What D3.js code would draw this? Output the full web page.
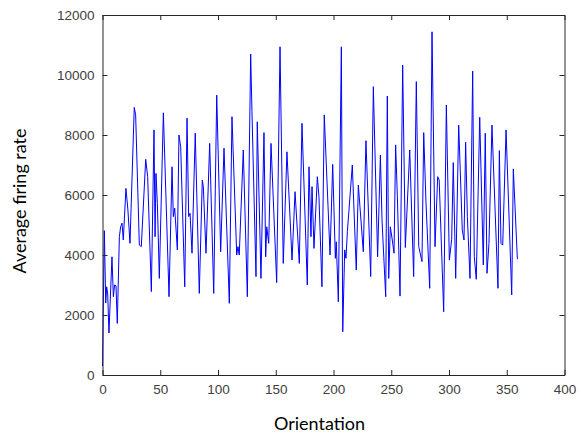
<!DOCTYPE html>
<html>
<head>
<meta charset="utf-8">
<script src="https://cdn.jsdelivr.net/npm/d3@7"></script>
<style>
  body { margin: 0; background: #fff; }
  svg { display: block; }
  .tick text { font-family: Arial, "Liberation Sans", sans-serif; font-size: 13.5px; fill: #404040; }
  .axis path, .axis line { stroke: #262626; }
</style>
</head>
<body>
<svg id="chart" width="581" height="436"></svg>
<script>
// vertices of the trace (orientation in degrees, rate)
const orientation = [
  0, 1.6, 2.8, 3.6, 4.5, 5.6, 8.2, 9.4, 10.5, 11.7,
  12.8, 14.6, 15.7, 16.9, 18, 20.3, 22, 23.8, 27.5, 28.7,
  31.9, 33.6, 37.4, 39.1, 42.3, 44.6, 45.5, 46.3, 47.5, 49.2,
  52.7, 57.6, 60.2, 61.3, 62.5, 64.8, 66.2, 67.7, 71.2, 73.2,
  74.6, 75.8, 77.5, 80.3, 83.8, 86.4, 87.3, 89.6, 92.8, 96.3,
  98.9, 102.3, 105.2, 109.8, 112.1, 116.2, 117.3, 118.4, 121.9, 125.4,
  128.3, 129.4, 132.9, 134, 137.2, 139.8, 141.3, 142.2, 143.9, 145.9,
  150.8, 153.7, 156.5, 159.7, 164.1, 166.7, 170.4, 172.7, 177.3, 178.8,
  180.5, 181.4, 183.1, 186, 187.4, 190, 192, 197, 199.3, 201.6,
  202.4, 204.2, 206.8, 208, 209.7, 210.8, 212, 216.3, 219.7, 221.5,
  222.9, 225.8, 228.1, 232.2, 234.5, 238.2, 240.6, 242, 245.2, 246.6,
  247.8, 249.2, 250.9, 252.4, 253.8, 255.3, 257.6, 259.9, 262.2, 266,
  269.4, 271.7, 273.8, 276.6, 278.1, 280, 283.3, 285.3, 287.9, 290.2,
  291.5, 295.4, 297.7, 300.3, 302.3, 303.7, 305.8, 308.4, 311.5, 313,
  314.4, 315.9, 318.2, 320.5, 321.9, 323.6, 326.6, 329.7, 331.4, 332.9,
  334.6, 337.2, 342.4, 343.6, 345, 346.5, 349.4, 354.3, 355.7, 359.2
];
const rate = [
  300, 4810, 2400, 2940, 2700, 1400, 3940, 2610, 3000, 2970,
  1720, 4610, 4940, 5060, 4500, 6220, 5500, 4390, 8920, 8670,
  4330, 4280, 7190, 6610, 2780, 8170, 4610, 6720, 5720, 3220,
  8740, 2610, 6940, 5280, 5560, 4170, 8000, 7610, 2940, 8560,
  5280, 5390, 4060, 8060, 2720, 6500, 6280, 4060, 7720, 2720,
  9330, 4110, 7560, 2390, 8610, 4000, 4280, 4000, 7500, 2610,
  10700, 8780, 3280, 8440, 3220, 8080, 3940, 4940, 4390, 7720,
  3080, 10940, 3720, 7440, 3830, 6110, 3720, 8390, 3000, 6940,
  4610, 6280, 4220, 6610, 5940, 2940, 8670, 4000, 7020, 3890,
  4440, 2440, 10940, 1440, 4170, 3890, 4780, 7000, 3500, 6330,
  5610, 4110, 7810, 3280, 9610, 3940, 7330, 5170, 2610, 9300,
  3220, 4940, 4500, 4060, 7670, 5940, 2630, 10330, 4250, 7500,
  3280, 9780, 4280, 3780, 8080, 5830, 2890, 11440, 4280, 6610,
  6500, 2110, 9000, 3830, 4520, 7080, 3220, 8330, 4830, 4500,
  7760, 5280, 3220, 10130, 3940, 3190, 8590, 3670, 8060, 3390,
  4390, 8330, 2890, 7480, 4390, 4330, 8170, 2670, 6870, 3860
];
const xTicks = [0, 50, 100, 150, 200, 250, 300, 350, 400];
const yTicks = [0, 2000, 4000, 6000, 8000, 10000, 12000];

const svg = d3.select('#chart');
const plotL = 102.5, plotR = 564.5, plotT = 15, plotB = 375;

const x = d3.scaleLinear().domain([0, 400]).range([plotL, plotR]);
const y = d3.scaleLinear().domain([0, 12000]).range([plotB, plotT]);

svg.append('rect')
  .attr('width', 581).attr('height', 436)
  .attr('fill', '#fff');

// the trace
const pts = orientation.map((o, i) => [o, rate[i]]);
svg.append('path')
  .datum(pts)
  .attr('fill', 'none')
  .attr('stroke', '#0000ff')
  .attr('stroke-width', 1)
  .attr('d', d3.line().x(d => x(d[0])).y(d => y(d[1])));

// box axes, ticks pointing inwards like matlab
svg.append('g').attr('class', 'axis')
  .attr('transform', `translate(0,${plotB})`)
  .call(d3.axisBottom(x).tickValues(xTicks).tickSizeInner(-5).tickSizeOuter(0).tickPadding(9));

svg.append('g').attr('class', 'axis')
  .attr('transform', `translate(0,${plotT})`)
  .call(d3.axisTop(x).tickValues(xTicks).tickSizeInner(-5).tickSizeOuter(0).tickFormat(''));

svg.append('g').attr('class', 'axis')
  .attr('transform', `translate(${plotL},0)`)
  .call(d3.axisLeft(y).tickValues(yTicks).tickSizeInner(-5).tickSizeOuter(0).tickPadding(8).tickFormat(d3.format('d')));

svg.append('g').attr('class', 'axis')
  .attr('transform', `translate(${plotR},0)`)
  .call(d3.axisRight(y).tickValues(yTicks).tickSizeInner(-5).tickSizeOuter(0).tickFormat(''));

svg.selectAll('.axis .domain').attr('stroke', '#262626');

// axis titles
svg.append('text')
  .attr('x', (plotL + plotR) / 2 - 14)
  .attr('y', 430)
  .attr('text-anchor', 'middle')
  .style('font-family', 'Lato, "Open Sans", sans-serif')
  .style('font-size', '18px')
  .text('Orientation');

svg.append('text')
  .attr('transform', 'translate(26,201) rotate(-90)')
  .attr('text-anchor', 'middle')
  .style('font-family', 'Lato, "Open Sans", sans-serif')
  .style('font-size', '18px')
  .text('Average firing rate');
</script>
</body>
</html>
